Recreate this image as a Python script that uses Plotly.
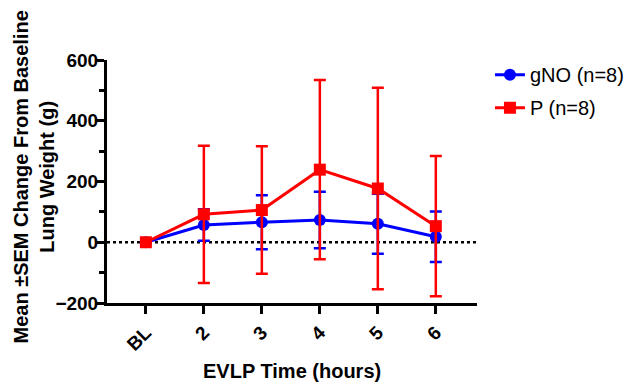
import plotly.graph_objects as go

categories = ["BL", "2", "3", "4", "5", "6"]
gno_mean = [0, 57, 66, 73, 61, 18]
gno_sem = [0, 52, 89, 93, 99, 83]
p_mean = [0, 92, 106, 239, 177, 53]
p_sem = [0, 226, 210, 295, 332, 231]
y_ticks = [-200, 0, 200, 400, 600]

FONT = "Liberation Sans, Arial, sans-serif"

fig = go.Figure()
fig.add_trace(go.Scatter(
    x=categories, y=gno_mean, name="gNO (n=8)", mode="lines+markers", legendgroup="g",
    line=dict(color="#0000ff", width=3),
    marker=dict(symbol="circle", size=12, color="#0000ff"),
    error_y=dict(type="data", array=gno_sem, visible=True, color="#0000ff", thickness=2.5, width=6),
))
fig.add_trace(go.Scatter(
    x=categories, y=p_mean, name="P (n=8)", mode="lines+markers", legendgroup="p",
    line=dict(color="#ff0000", width=3),
    marker=dict(symbol="square", size=12, color="#ff0000"),
    error_y=dict(type="data", array=p_sem, visible=True, color="#ff0000", thickness=2.5, width=6),
))

fig.add_shape(type="line", xref="x domain", yref="y", x0=0, x1=1, y0=0, y1=0,
              line=dict(color="black", width=2.5, dash="dot"), layer="below")

PL, PR, PT, PB = 107, 477, 60, 303
PW, PH = PR - PL, PB - PT

fig.add_annotation(
    text="Mean ±SEM Change From Baseline<br>Lung Weight (g)", textangle=-90,
    xref="paper", yref="paper", x=(33.5 - PL) / PW, y=(PB - 177) / PH,
    xanchor="center", yanchor="middle", showarrow=False,
    font=dict(size=20, family=FONT, weight="bold", color="black"),
)
fig.add_annotation(
    text="EVLP Time (hours)",
    xref="paper", yref="paper", x=(292 - PL) / PW, y=(PB - 371) / PH,
    xanchor="center", yanchor="middle", showarrow=False,
    font=dict(size=20, family=FONT, weight="bold", color="black"),
)

fig.update_layout(
    width=627, height=382,
    margin=dict(l=PL, r=627 - PR, t=PT, b=382 - PB, autoexpand=False),
    plot_bgcolor="white", paper_bgcolor="white",
    font=dict(family=FONT, color="black"),
    showlegend=True,
    legend=dict(x=1.035, y=1.02, xanchor="left", yanchor="top",
                font=dict(size=20, family=FONT, color="black"),
                bgcolor="rgba(0,0,0,0)", itemwidth=30, tracegroupgap=4),
)
fig.update_xaxes(
    type="category", range=[-0.67, 5.71], automargin=False,
    showline=True, linecolor="black", linewidth=3, mirror=False,
    ticks="outside", ticklen=8, tickwidth=3, tickcolor="black",
    tickangle=-45, tickfont=dict(size=19, family=FONT, weight="bold"),
    showgrid=False, zeroline=False,
)
fig.update_yaxes(
    range=[-200, 600], tickvals=y_ticks, automargin=False,
    showline=True, linecolor="black", linewidth=3,
    ticks="outside", ticklen=8, tickwidth=3, tickcolor="black",
    minor=dict(dtick=100, ticks="outside", ticklen=5, tickwidth=3, tickcolor="black"),
    tickfont=dict(size=19, family=FONT, weight="bold"),
    ticklabelstandoff=-6,
    showgrid=False, zeroline=False,
)

fig.write_html("out.html", config={"displayModeBar": False},
               post_script="document.body.style.margin='0';")
